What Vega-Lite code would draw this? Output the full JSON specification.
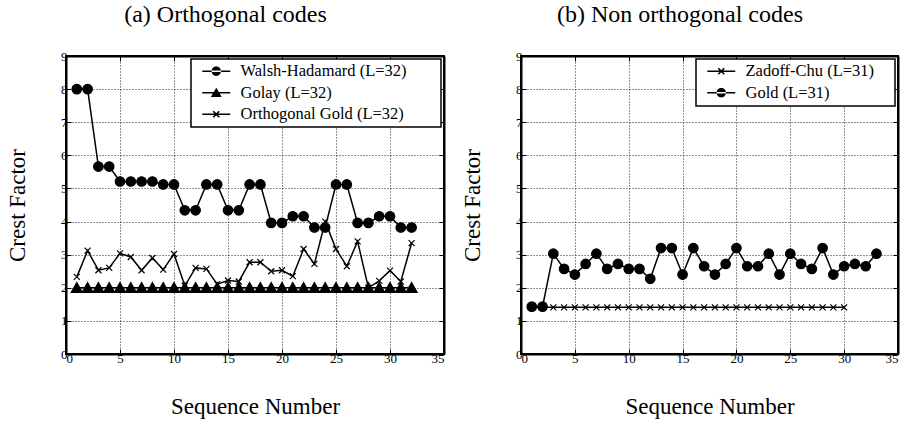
{
  "$schema": "https://vega.github.io/schema/vega-lite/v6.json",
  "padding": {"left": 5, "top": 2, "right": 2, "bottom": 2},
  "background": "white",
  "spacing": 14,
  "resolve": {"scale": {"shape": "independent"}, "legend": {"shape": "independent"}},
  "config": {
    "font": "Liberation Serif",
    "view": {"stroke": "black", "strokeWidth": 2},
    "axis": {
      "domain": true,
      "domainColor": "black",
      "domainWidth": 2,
      "labelFont": "Liberation Serif",
      "labelFontSize": 13,
      "labelColor": "black",
      "titleFont": "Liberation Serif",
      "titleFontSize": 23,
      "titleFontWeight": "normal",
      "titleColor": "black",
      "gridColor": "black",
      "gridDash": [1, 2],
      "gridOpacity": 0.85,
      "gridWidth": 1,
      "tickColor": "black",
      "tickWidth": 1,
      "tickSize": -5
    },
    "legend": {
      "fillColor": "white",
      "strokeColor": "black",
      "strokeWidth": 1.5,
      "padding": 4,
      "labelFont": "Liberation Serif",
      "labelFontSize": 16.5,
      "labelColor": "black",
      "labelLimit": 400,
      "titleFont": "Liberation Serif",
      "titleFontSize": 16.5,
      "titleOrient": "right",
      "symbolSize": 196,
      "symbolFillColor": "black",
      "symbolStrokeColor": "black",
      "symbolStrokeWidth": 0,
      "symbolOpacity": 1,
      "rowPadding": 4.5,
      "labelOffset": 29
    }
  },
  "datasets": {
    "a": [
      {"s":"Walsh-Hadamard (L=32)","n":1,"cf":8},{"s":"Walsh-Hadamard (L=32)","n":2,"cf":8},{"s":"Walsh-Hadamard (L=32)","n":3,"cf":5.66},{"s":"Walsh-Hadamard (L=32)","n":4,"cf":5.66},
      {"s":"Walsh-Hadamard (L=32)","n":5,"cf":5.21},{"s":"Walsh-Hadamard (L=32)","n":6,"cf":5.21},{"s":"Walsh-Hadamard (L=32)","n":7,"cf":5.21},{"s":"Walsh-Hadamard (L=32)","n":8,"cf":5.21},
      {"s":"Walsh-Hadamard (L=32)","n":9,"cf":5.12},{"s":"Walsh-Hadamard (L=32)","n":10,"cf":5.12},{"s":"Walsh-Hadamard (L=32)","n":11,"cf":4.34},{"s":"Walsh-Hadamard (L=32)","n":12,"cf":4.34},
      {"s":"Walsh-Hadamard (L=32)","n":13,"cf":5.12},{"s":"Walsh-Hadamard (L=32)","n":14,"cf":5.12},{"s":"Walsh-Hadamard (L=32)","n":15,"cf":4.34},{"s":"Walsh-Hadamard (L=32)","n":16,"cf":4.34},
      {"s":"Walsh-Hadamard (L=32)","n":17,"cf":5.12},{"s":"Walsh-Hadamard (L=32)","n":18,"cf":5.12},{"s":"Walsh-Hadamard (L=32)","n":19,"cf":3.96},{"s":"Walsh-Hadamard (L=32)","n":20,"cf":3.96},
      {"s":"Walsh-Hadamard (L=32)","n":21,"cf":4.16},{"s":"Walsh-Hadamard (L=32)","n":22,"cf":4.16},{"s":"Walsh-Hadamard (L=32)","n":23,"cf":3.82},{"s":"Walsh-Hadamard (L=32)","n":24,"cf":3.82},
      {"s":"Walsh-Hadamard (L=32)","n":25,"cf":5.12},{"s":"Walsh-Hadamard (L=32)","n":26,"cf":5.12},{"s":"Walsh-Hadamard (L=32)","n":27,"cf":3.96},{"s":"Walsh-Hadamard (L=32)","n":28,"cf":3.96},
      {"s":"Walsh-Hadamard (L=32)","n":29,"cf":4.16},{"s":"Walsh-Hadamard (L=32)","n":30,"cf":4.16},{"s":"Walsh-Hadamard (L=32)","n":31,"cf":3.82},{"s":"Walsh-Hadamard (L=32)","n":32,"cf":3.82},
      {"s":"Golay (L=32)","n":1,"cf":2},{"s":"Golay (L=32)","n":2,"cf":2},{"s":"Golay (L=32)","n":3,"cf":2},{"s":"Golay (L=32)","n":4,"cf":2},
      {"s":"Golay (L=32)","n":5,"cf":2},{"s":"Golay (L=32)","n":6,"cf":2},{"s":"Golay (L=32)","n":7,"cf":2},{"s":"Golay (L=32)","n":8,"cf":2},
      {"s":"Golay (L=32)","n":9,"cf":2},{"s":"Golay (L=32)","n":10,"cf":2},{"s":"Golay (L=32)","n":11,"cf":2},{"s":"Golay (L=32)","n":12,"cf":2},
      {"s":"Golay (L=32)","n":13,"cf":2},{"s":"Golay (L=32)","n":14,"cf":2},{"s":"Golay (L=32)","n":15,"cf":2},{"s":"Golay (L=32)","n":16,"cf":2},
      {"s":"Golay (L=32)","n":17,"cf":2},{"s":"Golay (L=32)","n":18,"cf":2},{"s":"Golay (L=32)","n":19,"cf":2},{"s":"Golay (L=32)","n":20,"cf":2},
      {"s":"Golay (L=32)","n":21,"cf":2},{"s":"Golay (L=32)","n":22,"cf":2},{"s":"Golay (L=32)","n":23,"cf":2},{"s":"Golay (L=32)","n":24,"cf":2},
      {"s":"Golay (L=32)","n":25,"cf":2},{"s":"Golay (L=32)","n":26,"cf":2},{"s":"Golay (L=32)","n":27,"cf":2},{"s":"Golay (L=32)","n":28,"cf":2},
      {"s":"Golay (L=32)","n":29,"cf":2},{"s":"Golay (L=32)","n":30,"cf":2},{"s":"Golay (L=32)","n":31,"cf":2},{"s":"Golay (L=32)","n":32,"cf":2},
      {"s":"Orthogonal Gold (L=32)","n":1,"cf":2.33},{"s":"Orthogonal Gold (L=32)","n":2,"cf":3.12},{"s":"Orthogonal Gold (L=32)","n":3,"cf":2.53},{"s":"Orthogonal Gold (L=32)","n":4,"cf":2.6},
      {"s":"Orthogonal Gold (L=32)","n":5,"cf":3.04},{"s":"Orthogonal Gold (L=32)","n":6,"cf":2.93},{"s":"Orthogonal Gold (L=32)","n":7,"cf":2.53},{"s":"Orthogonal Gold (L=32)","n":8,"cf":2.9},
      {"s":"Orthogonal Gold (L=32)","n":9,"cf":2.55},{"s":"Orthogonal Gold (L=32)","n":10,"cf":3.02},{"s":"Orthogonal Gold (L=32)","n":11,"cf":2.06},{"s":"Orthogonal Gold (L=32)","n":12,"cf":2.6},
      {"s":"Orthogonal Gold (L=32)","n":13,"cf":2.57},{"s":"Orthogonal Gold (L=32)","n":14,"cf":2.11},{"s":"Orthogonal Gold (L=32)","n":15,"cf":2.22},{"s":"Orthogonal Gold (L=32)","n":16,"cf":2.19},
      {"s":"Orthogonal Gold (L=32)","n":17,"cf":2.77},{"s":"Orthogonal Gold (L=32)","n":18,"cf":2.77},{"s":"Orthogonal Gold (L=32)","n":19,"cf":2.5},{"s":"Orthogonal Gold (L=32)","n":20,"cf":2.53},
      {"s":"Orthogonal Gold (L=32)","n":21,"cf":2.35},{"s":"Orthogonal Gold (L=32)","n":22,"cf":3.17},{"s":"Orthogonal Gold (L=32)","n":23,"cf":2.72},{"s":"Orthogonal Gold (L=32)","n":24,"cf":4.0},
      {"s":"Orthogonal Gold (L=32)","n":25,"cf":3.17},{"s":"Orthogonal Gold (L=32)","n":26,"cf":2.65},{"s":"Orthogonal Gold (L=32)","n":27,"cf":3.4},{"s":"Orthogonal Gold (L=32)","n":28,"cf":2.0},
      {"s":"Orthogonal Gold (L=32)","n":29,"cf":2.21},{"s":"Orthogonal Gold (L=32)","n":30,"cf":2.52},{"s":"Orthogonal Gold (L=32)","n":31,"cf":2.19},{"s":"Orthogonal Gold (L=32)","n":32,"cf":3.35}
    ],
    "b": [
      {"s":"Zadoff-Chu (L=31)","n":1,"cf":1.41},{"s":"Zadoff-Chu (L=31)","n":2,"cf":1.41},{"s":"Zadoff-Chu (L=31)","n":3,"cf":1.41},{"s":"Zadoff-Chu (L=31)","n":4,"cf":1.41},
      {"s":"Zadoff-Chu (L=31)","n":5,"cf":1.41},{"s":"Zadoff-Chu (L=31)","n":6,"cf":1.41},{"s":"Zadoff-Chu (L=31)","n":7,"cf":1.41},{"s":"Zadoff-Chu (L=31)","n":8,"cf":1.41},
      {"s":"Zadoff-Chu (L=31)","n":9,"cf":1.41},{"s":"Zadoff-Chu (L=31)","n":10,"cf":1.41},{"s":"Zadoff-Chu (L=31)","n":11,"cf":1.41},{"s":"Zadoff-Chu (L=31)","n":12,"cf":1.41},
      {"s":"Zadoff-Chu (L=31)","n":13,"cf":1.41},{"s":"Zadoff-Chu (L=31)","n":14,"cf":1.41},{"s":"Zadoff-Chu (L=31)","n":15,"cf":1.41},{"s":"Zadoff-Chu (L=31)","n":16,"cf":1.41},
      {"s":"Zadoff-Chu (L=31)","n":17,"cf":1.41},{"s":"Zadoff-Chu (L=31)","n":18,"cf":1.41},{"s":"Zadoff-Chu (L=31)","n":19,"cf":1.41},{"s":"Zadoff-Chu (L=31)","n":20,"cf":1.41},
      {"s":"Zadoff-Chu (L=31)","n":21,"cf":1.41},{"s":"Zadoff-Chu (L=31)","n":22,"cf":1.41},{"s":"Zadoff-Chu (L=31)","n":23,"cf":1.41},{"s":"Zadoff-Chu (L=31)","n":24,"cf":1.41},
      {"s":"Zadoff-Chu (L=31)","n":25,"cf":1.41},{"s":"Zadoff-Chu (L=31)","n":26,"cf":1.41},{"s":"Zadoff-Chu (L=31)","n":27,"cf":1.41},{"s":"Zadoff-Chu (L=31)","n":28,"cf":1.41},
      {"s":"Zadoff-Chu (L=31)","n":29,"cf":1.41},{"s":"Zadoff-Chu (L=31)","n":30,"cf":1.41},
      {"s":"Gold (L=31)","n":1,"cf":1.43},{"s":"Gold (L=31)","n":2,"cf":1.43},{"s":"Gold (L=31)","n":3,"cf":3.03},{"s":"Gold (L=31)","n":4,"cf":2.57},
      {"s":"Gold (L=31)","n":5,"cf":2.4},{"s":"Gold (L=31)","n":6,"cf":2.72},{"s":"Gold (L=31)","n":7,"cf":3.03},{"s":"Gold (L=31)","n":8,"cf":2.57},
      {"s":"Gold (L=31)","n":9,"cf":2.72},{"s":"Gold (L=31)","n":10,"cf":2.57},{"s":"Gold (L=31)","n":11,"cf":2.57},{"s":"Gold (L=31)","n":12,"cf":2.27},
      {"s":"Gold (L=31)","n":13,"cf":3.2},{"s":"Gold (L=31)","n":14,"cf":3.2},{"s":"Gold (L=31)","n":15,"cf":2.4},{"s":"Gold (L=31)","n":16,"cf":3.2},
      {"s":"Gold (L=31)","n":17,"cf":2.65},{"s":"Gold (L=31)","n":18,"cf":2.4},{"s":"Gold (L=31)","n":19,"cf":2.72},{"s":"Gold (L=31)","n":20,"cf":3.2},
      {"s":"Gold (L=31)","n":21,"cf":2.65},{"s":"Gold (L=31)","n":22,"cf":2.65},{"s":"Gold (L=31)","n":23,"cf":3.03},{"s":"Gold (L=31)","n":24,"cf":2.4},
      {"s":"Gold (L=31)","n":25,"cf":3.03},{"s":"Gold (L=31)","n":26,"cf":2.72},{"s":"Gold (L=31)","n":27,"cf":2.57},{"s":"Gold (L=31)","n":28,"cf":3.2},
      {"s":"Gold (L=31)","n":29,"cf":2.4},{"s":"Gold (L=31)","n":30,"cf":2.65},{"s":"Gold (L=31)","n":31,"cf":2.72},{"s":"Gold (L=31)","n":32,"cf":2.65},
      {"s":"Gold (L=31)","n":33,"cf":3.03}
    ]
  },
  "hconcat": [
    {
      "width": 378, "height": 298,
      "view": {"stroke": "black", "strokeWidth": 2},
      "title": {"text": "(a) Orthogonal codes", "font": "Liberation Serif", "fontSize": 24, "fontWeight": "normal", "color": "black", "frame": "bounds", "anchor": "middle", "offset": 23},
      "data": {"name": "a"},
      "layer": [
        {
          "mark": {"type": "line", "color": "black", "strokeWidth": 1.5},
          "encoding": {
            "x": {"field": "n", "type": "quantitative", "scale": {"domain": [0, 35], "nice": false}, "axis": {"orient": "bottom", "values": [0,5,10,15,20,25,30,35], "title": "Sequence Number", "grid": true, "labelPadding": 3, "titlePadding": 30}},
            "y": {"field": "cf", "type": "quantitative", "scale": {"domain": [0, 9], "nice": false}, "axis": {"orient": "left", "values": [0,1,2,3,4,5,6,7,8,9], "title": "Crest Factor", "grid": true, "labelPadding": 4, "titlePadding": 31}},
            "detail": {"field": "s"}
          }
        },
        {
          "mark": {"type": "point", "filled": true, "fill": "black", "stroke": "black", "strokeWidth": 1.2, "opacity": 1, "size": 100},
          "encoding": {
            "x": {"field": "n", "type": "quantitative", "axis": {"orient": "top", "values": [0,5,10,15,20,25,30,35], "labels": false, "title": null, "grid": false}},
            "y": {"field": "cf", "type": "quantitative", "axis": {"orient": "right", "values": [0,1,2,3,4,5,6,7,8,9], "labels": false, "title": null, "grid": false}},
            "shape": {"field": "s", "type": "nominal",
              "scale": {"domain": ["Walsh-Hadamard (L=32)", "Golay (L=32)", "Orthogonal Gold (L=32)"], "range": ["M-0.95,0A0.95,0.95,0,1,0,0.95,0A0.95,0.95,0,1,0,-0.95,0Z", "M0,-1.05L1.1,0.9L-1.1,0.9Z", "M-0.6,-0.6L0.6,0.6M-0.6,0.6L0.6,-0.6"]},
              "legend": null}
          }
        },
        {
          "transform": [{"filter": "datum.n < 0"}],
          "mark": {"type": "point", "filled": true, "color": "black", "opacity": 1},
          "encoding": {
            "shape": {"field": "s", "type": "nominal",
              "scale": {"domain": ["Walsh-Hadamard (L=32)", "Golay (L=32)", "Orthogonal Gold (L=32)"], "range": [
                "M-0.14,-0.1H3.86V0.1H-0.14ZM1.19,0A0.67,0.67,0,1,0,2.53,0A0.67,0.67,0,1,0,1.19,0Z",
                "M-0.14,-0.1H3.86V0.1H-0.14ZM1.86,-0.72L2.64,0.62L1.08,0.62Z",
                "M-0.14,-0.1H3.86V0.1H-0.14ZM2.37,0.35L2.21,0.51L1.35,-0.35L1.51,-0.51ZM1.51,0.51L1.35,0.35L2.21,-0.51L2.37,-0.35Z"]},
              "legend": {"title": "\u00a0", "titleOrient": "right", "titlePadding": 30, "orient": "top-right", "offset": 3}}
          }
        }
      ],
      "resolve": {"axis": {"x": "independent", "y": "independent"}, "scale": {"shape": "independent"}}
    },
    {
      "width": 377, "height": 298,
      "view": {"stroke": "black", "strokeWidth": 2},
      "title": {"text": "(b) Non orthogonal codes", "font": "Liberation Serif", "fontSize": 24, "fontWeight": "normal", "color": "black", "frame": "bounds", "anchor": "middle", "offset": 23},
      "data": {"name": "b"},
      "layer": [
        {
          "mark": {"type": "line", "color": "black", "strokeWidth": 1.5},
          "encoding": {
            "x": {"field": "n", "type": "quantitative", "scale": {"domain": [0, 35], "nice": false}, "axis": {"orient": "bottom", "values": [0,5,10,15,20,25,30,35], "title": "Sequence Number", "grid": true, "labelPadding": 3, "titlePadding": 30}},
            "y": {"field": "cf", "type": "quantitative", "scale": {"domain": [0, 9], "nice": false}, "axis": {"orient": "left", "values": [0,1,2,3,4,5,6,7,8,9], "title": "Crest Factor", "grid": true, "labelPadding": 4, "titlePadding": 31}},
            "detail": {"field": "s"}
          }
        },
        {
          "mark": {"type": "point", "filled": true, "fill": "black", "stroke": "black", "strokeWidth": 1.2, "opacity": 1, "size": 100},
          "encoding": {
            "x": {"field": "n", "type": "quantitative", "axis": {"orient": "top", "values": [0,5,10,15,20,25,30,35], "labels": false, "title": null, "grid": false}},
            "y": {"field": "cf", "type": "quantitative", "axis": {"orient": "right", "values": [0,1,2,3,4,5,6,7,8,9], "labels": false, "title": null, "grid": false}},
            "shape": {"field": "s", "type": "nominal",
              "scale": {"domain": ["Zadoff-Chu (L=31)", "Gold (L=31)"], "range": ["M-0.6,-0.6L0.6,0.6M-0.6,0.6L0.6,-0.6", "M-0.95,0A0.95,0.95,0,1,0,0.95,0A0.95,0.95,0,1,0,-0.95,0Z"]},
              "legend": null}
          }
        },
        {
          "transform": [{"filter": "datum.n < 0"}],
          "mark": {"type": "point", "filled": true, "color": "black", "opacity": 1},
          "encoding": {
            "shape": {"field": "s", "type": "nominal",
              "scale": {"domain": ["Zadoff-Chu (L=31)", "Gold (L=31)"], "range": [
                "M-0.14,-0.1H3.86V0.1H-0.14ZM2.37,0.35L2.21,0.51L1.35,-0.35L1.51,-0.51ZM1.51,0.51L1.35,0.35L2.21,-0.51L2.37,-0.35Z",
                "M-0.14,-0.1H3.86V0.1H-0.14ZM1.19,0A0.67,0.67,0,1,0,2.53,0A0.67,0.67,0,1,0,1.19,0Z"]},
              "legend": {"title": "\u00a0", "titleOrient": "right", "titlePadding": 17, "orient": "top-right", "offset": 3}}
          }
        }
      ],
      "resolve": {"axis": {"x": "independent", "y": "independent"}, "scale": {"shape": "independent"}}
    }
  ]
}
